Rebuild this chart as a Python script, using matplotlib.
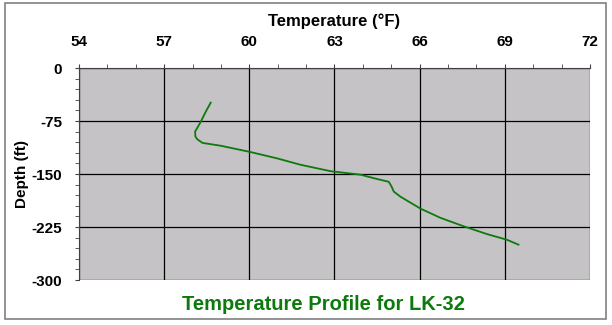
import matplotlib
matplotlib.use('Agg')
import matplotlib.pyplot as plt
from matplotlib.patches import Rectangle
from matplotlib.ticker import MultipleLocator

plt.rcParams['font.family'] = ['Liberation Sans', 'DejaVu Sans']
plt.rcParams['axes.unicode_minus'] = False

# Temperature profile data
temp_f = [58.64, 58.45, 58.29, 58.09, 58.10, 58.17, 58.35, 58.99, 59.70, 60.05,
          60.99, 61.81, 62.86, 63.92, 64.39, 64.91, 65.00, 65.09, 65.32, 66.03,
          66.73, 67.55, 68.37, 69.07, 69.48]
depth_ft = [-49, -63, -76, -90, -97, -101, -106, -110, -116, -119,
            -128, -137, -146, -151, -156, -161, -167, -175, -182, -199,
            -212, -224, -235, -243, -250]

xticks = [54, 57, 60, 63, 66, 69, 72]
yticks = [0, -75, -150, -225, -300]

green = '#0C7A0C'

fig = plt.figure(figsize=(6.12, 3.25), dpi=100)
fig.patches.append(Rectangle((5 / 612, 6 / 325), 601 / 612, 316 / 325,
                             transform=fig.transFigure, fill=False,
                             edgecolor='#808080', linewidth=1.2))

ax = fig.add_axes([79 / 612, 1 - 280 / 325, 511 / 612, 212 / 325])
ax.set_facecolor('#C6C3C6')
ax.plot(temp_f, depth_ft, color=green, linewidth=1.3)

ax.set_xlim(54, 72)
ax.set_ylim(-300, 0)
ax.set_xticks(xticks)
ax.set_yticks(yticks)
ax.xaxis.set_minor_locator(MultipleLocator(1))
ax.yaxis.set_minor_locator(MultipleLocator(15))
ax.xaxis.tick_top()
ax.xaxis.set_label_position('top')
ax.grid(True, which='major', color='black', linewidth=0.9)
ax.tick_params(which='both', direction='out', color='#404040', labelsize=11)
ax.tick_params(which='major', length=3)
ax.tick_params(which='minor', length=3)
ax.tick_params(axis='x', which='major', pad=11)
ax.tick_params(axis='y', which='major', pad=9)
for lab in ax.get_xticklabels() + ax.get_yticklabels():
    lab.set_fontweight('bold')
for s in ['bottom', 'right']:
    ax.spines[s].set_visible(False)
ax.spines['left'].set_color('#404040')
ax.spines['top'].set_color('#404040')

ax.set_xlabel('Temperature (°F)', fontsize=12, fontweight='bold', labelpad=6)
ax.set_ylabel('Depth (ft)', fontsize=11, fontweight='bold', labelpad=2)

fig.text(323 / 612, 1 - 304 / 325, 'Temperature Profile for LK-32', color=green,
         fontsize=14.5, fontweight='bold', ha='center', va='center')

fig.savefig('out.png', dpi=100)
